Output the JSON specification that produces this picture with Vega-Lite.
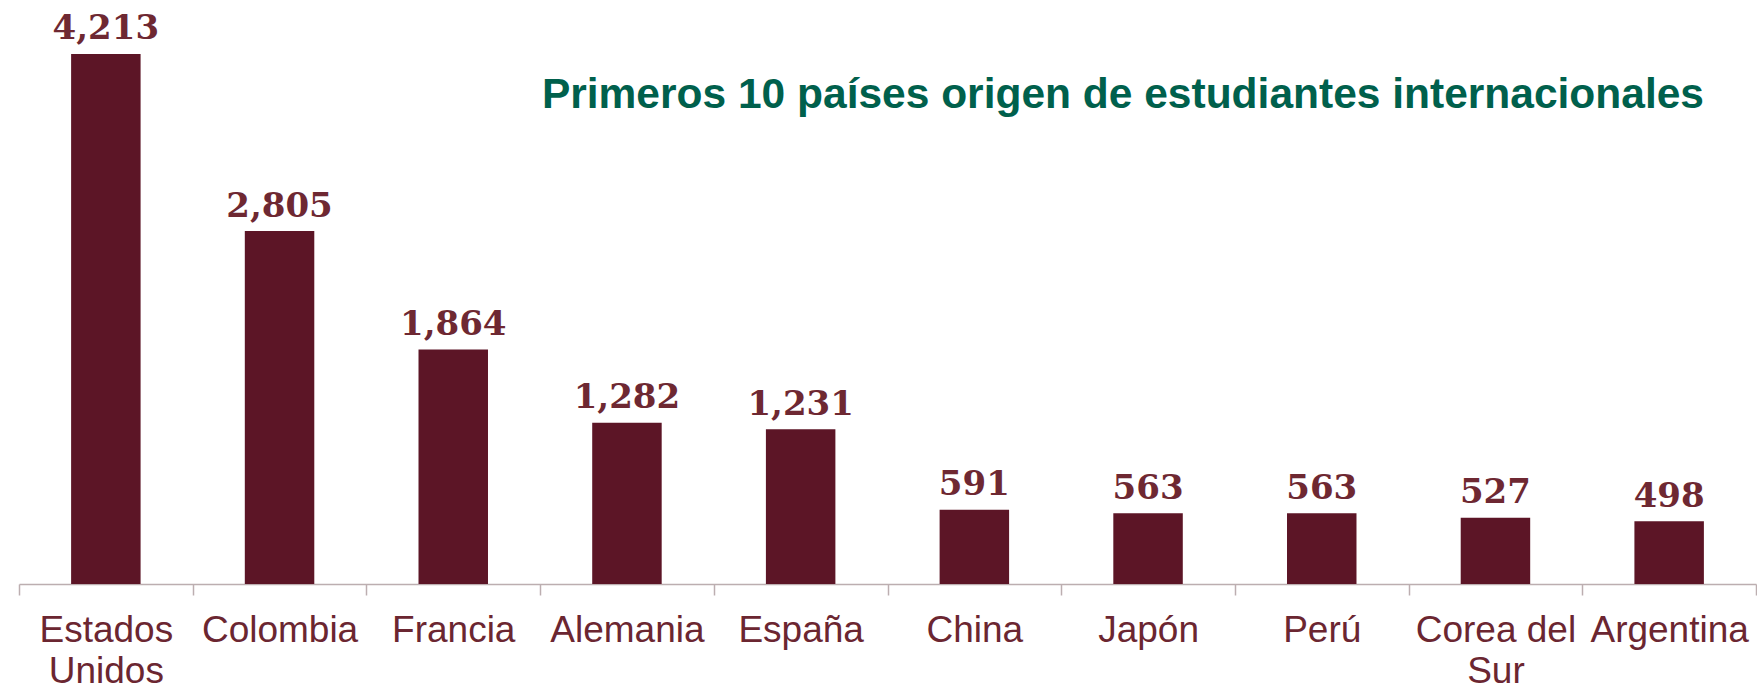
{
  "$schema": "https://vega.github.io/schema/vega-lite/v6.json",
  "autosize": {"type": "none"},
  "padding": {"left": 19, "top": 0, "right": 1, "bottom": 105},
  "width": 1737,
  "height": 584,
  "background": "#ffffff",
  "title": {
    "text": "Primeros 10 países origen de estudiantes internacionales",
    "orient": "top",
    "anchor": "end",
    "frame": "group",
    "offset": -150,
    "baseline": "alphabetic",
    "dx": -52,
    "font": "Liberation Sans",
    "fontSize": 42.5,
    "fontWeight": "bold",
    "color": "#00604c"
  },
  "data": {
    "values": [
      {"pais": "Estados Unidos", "estudiantes": 4213},
      {"pais": "Colombia", "estudiantes": 2805},
      {"pais": "Francia", "estudiantes": 1864},
      {"pais": "Alemania", "estudiantes": 1282},
      {"pais": "España", "estudiantes": 1231},
      {"pais": "China", "estudiantes": 591},
      {"pais": "Japón", "estudiantes": 563},
      {"pais": "Perú", "estudiantes": 563},
      {"pais": "Corea del Sur", "estudiantes": 527},
      {"pais": "Argentina", "estudiantes": 498}
    ]
  },
  "encoding": {
    "x": {
      "field": "pais",
      "type": "nominal",
      "sort": null,
      "scale": {"paddingInner": 0, "paddingOuter": 0},
      "axis": {
        "title": null,
        "labelAngle": 0,
        "tickBand": "extent",
        "tickSize": 11,
        "tickColor": "#bcaeb0",
        "domainColor": "#bcaeb0",
        "domainWidth": 1.5,
        "tickWidth": 1.5,
        "labelPadding": 17,
        "labelFont": "Liberation Sans",
        "labelFontSize": 37,
        "labelColor": "#6b2631",
        "labelLineHeight": 41,
        "labelLimit": 0,
        "labelOverlap": false,
        "labelExpr": "datum.value == 'Estados Unidos' ? ['Estados', 'Unidos'] : datum.value == 'Corea del Sur' ? ['Corea del', 'Sur'] : datum.value"
      }
    },
    "y": {
      "field": "estudiantes",
      "type": "quantitative",
      "scale": {"domain": [0, 4642], "nice": false, "zero": true},
      "axis": null
    }
  },
  "layer": [
    {
      "mark": {"type": "bar", "width": {"band": 0.4}, "color": "#5c1526"}
    },
    {
      "mark": {
        "type": "text",
        "baseline": "alphabetic",
        "dy": -14.5,
        "font": "DejaVu Serif",
        "fontWeight": "bold",
        "fontSize": 34,
        "color": "#6e2832"
      },
      "encoding": {
        "text": {"field": "estudiantes", "type": "quantitative", "format": ",d"}
      }
    }
  ],
  "config": {"view": {"stroke": null}}
}
